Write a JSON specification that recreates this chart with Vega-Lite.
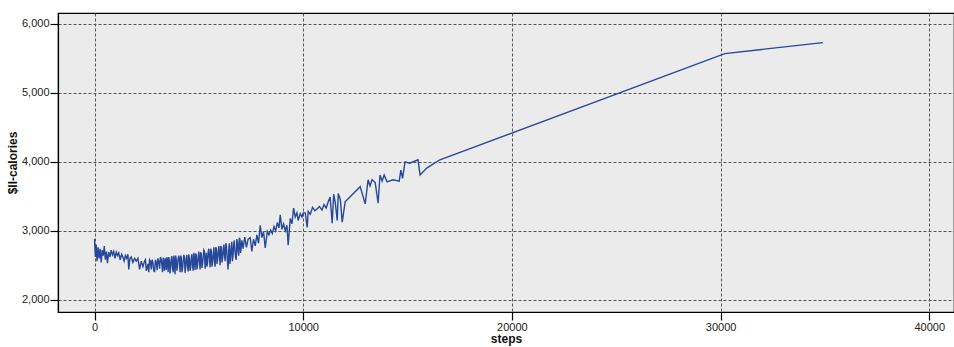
{
  "$schema": "https://vega.github.io/schema/vega-lite/v6.json",
  "width": 896,
  "height": 299,
  "autosize": {"type": "none"},
  "padding": {"left": 58, "top": 13, "right": 0, "bottom": 35},
  "background": "#ffffff",
  "config": {
    "view": {"fill": "#ebebeb", "stroke": "#000000", "strokeWidth": 1.2},
    "axis": {
      "labelFont": "Liberation Sans",
      "labelFontSize": 11,
      "labelColor": "#222222",
      "titleFont": "Liberation Sans",
      "titleFontSize": 11,
      "titleFontWeight": "bold",
      "titleColor": "#111111",
      "domainColor": "#000000",
      "domainWidth": 1.2,
      "tickColor": "#000000",
      "tickSize": 8,
      "tickWidth": 1.2,
      "grid": true,
      "gridColor": "#555555",
      "gridDash": [3, 2],
      "gridWidth": 1,
      "gridOpacity": 1
    }
  },
  "data": {
    "values": [
      {"steps": 0, "cal": 2880}, {"steps": 40, "cal": 2620}, {"steps": 80, "cal": 2800}, {"steps": 120, "cal": 2560},
      {"steps": 170, "cal": 2760}, {"steps": 220, "cal": 2600}, {"steps": 270, "cal": 2740}, {"steps": 320, "cal": 2540},
      {"steps": 370, "cal": 2720}, {"steps": 420, "cal": 2640}, {"steps": 470, "cal": 2780}, {"steps": 520, "cal": 2580},
      {"steps": 570, "cal": 2700}, {"steps": 620, "cal": 2530}, {"steps": 680, "cal": 2690}, {"steps": 740, "cal": 2620},
      {"steps": 800, "cal": 2720}, {"steps": 860, "cal": 2650}, {"steps": 920, "cal": 2700}, {"steps": 980, "cal": 2600},
      {"steps": 1040, "cal": 2690}, {"steps": 1100, "cal": 2640}, {"steps": 1160, "cal": 2680}, {"steps": 1230, "cal": 2580},
      {"steps": 1300, "cal": 2660}, {"steps": 1360, "cal": 2620}, {"steps": 1420, "cal": 2560}, {"steps": 1480, "cal": 2640},
      {"steps": 1540, "cal": 2600}, {"steps": 1600, "cal": 2660}, {"steps": 1640, "cal": 2440}, {"steps": 1700, "cal": 2600},
      {"steps": 1760, "cal": 2620}, {"steps": 1840, "cal": 2540}, {"steps": 1920, "cal": 2600}, {"steps": 2000, "cal": 2560},
      {"steps": 2080, "cal": 2600}, {"steps": 2160, "cal": 2440}, {"steps": 2240, "cal": 2560}, {"steps": 2320, "cal": 2480},
      {"steps": 2400, "cal": 2560}, {"steps": 2440, "cal": 2580}, {"steps": 2480, "cal": 2420}, {"steps": 2520, "cal": 2460},
      {"steps": 2560, "cal": 2520}, {"steps": 2600, "cal": 2400}, {"steps": 2640, "cal": 2580}, {"steps": 2680, "cal": 2560},
      {"steps": 2720, "cal": 2440}, {"steps": 2760, "cal": 2580}, {"steps": 2800, "cal": 2540}, {"steps": 2840, "cal": 2420},
      {"steps": 2880, "cal": 2410}, {"steps": 2920, "cal": 2580}, {"steps": 2960, "cal": 2540}, {"steps": 3000, "cal": 2430},
      {"steps": 3040, "cal": 2600}, {"steps": 3080, "cal": 2560}, {"steps": 3120, "cal": 2450}, {"steps": 3160, "cal": 2620},
      {"steps": 3200, "cal": 2580}, {"steps": 3230, "cal": 2500}, {"steps": 3260, "cal": 2400}, {"steps": 3290, "cal": 2610},
      {"steps": 3320, "cal": 2520}, {"steps": 3350, "cal": 2420}, {"steps": 3380, "cal": 2600}, {"steps": 3410, "cal": 2580},
      {"steps": 3440, "cal": 2430}, {"steps": 3470, "cal": 2620}, {"steps": 3500, "cal": 2560}, {"steps": 3530, "cal": 2400},
      {"steps": 3560, "cal": 2620}, {"steps": 3590, "cal": 2560}, {"steps": 3620, "cal": 2380}, {"steps": 3650, "cal": 2480},
      {"steps": 3680, "cal": 2600}, {"steps": 3710, "cal": 2630}, {"steps": 3740, "cal": 2460}, {"steps": 3770, "cal": 2400},
      {"steps": 3800, "cal": 2640}, {"steps": 3830, "cal": 2550}, {"steps": 3860, "cal": 2370}, {"steps": 3890, "cal": 2640},
      {"steps": 3920, "cal": 2580}, {"steps": 3950, "cal": 2420}, {"steps": 3980, "cal": 2500}, {"steps": 4010, "cal": 2600},
      {"steps": 4040, "cal": 2640}, {"steps": 4070, "cal": 2560}, {"steps": 4100, "cal": 2400}, {"steps": 4130, "cal": 2640},
      {"steps": 4160, "cal": 2610}, {"steps": 4190, "cal": 2400}, {"steps": 4220, "cal": 2460}, {"steps": 4250, "cal": 2560},
      {"steps": 4280, "cal": 2650}, {"steps": 4310, "cal": 2620}, {"steps": 4340, "cal": 2390}, {"steps": 4370, "cal": 2480},
      {"steps": 4400, "cal": 2600}, {"steps": 4430, "cal": 2650}, {"steps": 4460, "cal": 2470}, {"steps": 4490, "cal": 2410},
      {"steps": 4520, "cal": 2660}, {"steps": 4550, "cal": 2580}, {"steps": 4580, "cal": 2420}, {"steps": 4610, "cal": 2470},
      {"steps": 4640, "cal": 2620}, {"steps": 4670, "cal": 2660}, {"steps": 4700, "cal": 2490}, {"steps": 4730, "cal": 2420},
      {"steps": 4760, "cal": 2680}, {"steps": 4790, "cal": 2600}, {"steps": 4820, "cal": 2430}, {"steps": 4850, "cal": 2670},
      {"steps": 4880, "cal": 2640}, {"steps": 4910, "cal": 2440}, {"steps": 4940, "cal": 2510}, {"steps": 4970, "cal": 2620},
      {"steps": 5000, "cal": 2700}, {"steps": 5030, "cal": 2560}, {"steps": 5060, "cal": 2440}, {"steps": 5090, "cal": 2690},
      {"steps": 5120, "cal": 2660}, {"steps": 5150, "cal": 2460}, {"steps": 5180, "cal": 2530}, {"steps": 5210, "cal": 2620},
      {"steps": 5240, "cal": 2720}, {"steps": 5270, "cal": 2700}, {"steps": 5300, "cal": 2450}, {"steps": 5330, "cal": 2560},
      {"steps": 5360, "cal": 2680}, {"steps": 5390, "cal": 2480}, {"steps": 5420, "cal": 2550}, {"steps": 5450, "cal": 2700},
      {"steps": 5480, "cal": 2740}, {"steps": 5510, "cal": 2600}, {"steps": 5540, "cal": 2470}, {"steps": 5570, "cal": 2740},
      {"steps": 5600, "cal": 2700}, {"steps": 5630, "cal": 2480}, {"steps": 5660, "cal": 2570}, {"steps": 5690, "cal": 2660},
      {"steps": 5720, "cal": 2760}, {"steps": 5750, "cal": 2540}, {"steps": 5780, "cal": 2480}, {"steps": 5810, "cal": 2760},
      {"steps": 5840, "cal": 2740}, {"steps": 5870, "cal": 2520}, {"steps": 5900, "cal": 2590}, {"steps": 5930, "cal": 2700},
      {"steps": 5960, "cal": 2780}, {"steps": 5990, "cal": 2620}, {"steps": 6020, "cal": 2500}, {"steps": 6050, "cal": 2780},
      {"steps": 6080, "cal": 2760}, {"steps": 6110, "cal": 2540}, {"steps": 6140, "cal": 2610}, {"steps": 6170, "cal": 2720},
      {"steps": 6200, "cal": 2800}, {"steps": 6230, "cal": 2640}, {"steps": 6260, "cal": 2560}, {"steps": 6290, "cal": 2820},
      {"steps": 6320, "cal": 2780}, {"steps": 6360, "cal": 2600}, {"steps": 6400, "cal": 2440}, {"steps": 6430, "cal": 2700},
      {"steps": 6460, "cal": 2820}, {"steps": 6490, "cal": 2520}, {"steps": 6520, "cal": 2600}, {"steps": 6550, "cal": 2760},
      {"steps": 6580, "cal": 2840}, {"steps": 6610, "cal": 2560}, {"steps": 6640, "cal": 2660}, {"steps": 6670, "cal": 2800},
      {"steps": 6700, "cal": 2860}, {"steps": 6730, "cal": 2700}, {"steps": 6760, "cal": 2620}, {"steps": 6790, "cal": 2580},
      {"steps": 6820, "cal": 2880}, {"steps": 6850, "cal": 2840}, {"steps": 6880, "cal": 2700}, {"steps": 6910, "cal": 2640},
      {"steps": 6940, "cal": 2900}, {"steps": 6970, "cal": 2880}, {"steps": 7000, "cal": 2680}, {"steps": 7060, "cal": 2860},
      {"steps": 7120, "cal": 2740}, {"steps": 7200, "cal": 2910}, {"steps": 7280, "cal": 2760}, {"steps": 7360, "cal": 2880},
      {"steps": 7460, "cal": 2900}, {"steps": 7540, "cal": 2700}, {"steps": 7620, "cal": 2880}, {"steps": 7700, "cal": 2780},
      {"steps": 7780, "cal": 2940}, {"steps": 7860, "cal": 2820}, {"steps": 7940, "cal": 3080}, {"steps": 8020, "cal": 2900},
      {"steps": 8100, "cal": 2990}, {"steps": 8180, "cal": 2750}, {"steps": 8280, "cal": 2990}, {"steps": 8360, "cal": 2940},
      {"steps": 8440, "cal": 3010}, {"steps": 8520, "cal": 2960}, {"steps": 8600, "cal": 3060}, {"steps": 8680, "cal": 3000},
      {"steps": 8760, "cal": 3120}, {"steps": 8840, "cal": 3040}, {"steps": 8900, "cal": 3230}, {"steps": 8980, "cal": 3020},
      {"steps": 9060, "cal": 3100}, {"steps": 9140, "cal": 3000}, {"steps": 9220, "cal": 3080}, {"steps": 9280, "cal": 2790},
      {"steps": 9380, "cal": 3180}, {"steps": 9460, "cal": 3100}, {"steps": 9540, "cal": 3330}, {"steps": 9620, "cal": 3200},
      {"steps": 9700, "cal": 3260}, {"steps": 9760, "cal": 3150}, {"steps": 9860, "cal": 3250}, {"steps": 9940, "cal": 3200},
      {"steps": 10000, "cal": 3260}, {"steps": 10100, "cal": 3260}, {"steps": 10190, "cal": 3050}, {"steps": 10240, "cal": 3280},
      {"steps": 10340, "cal": 3240}, {"steps": 10450, "cal": 3340}, {"steps": 10560, "cal": 3290}, {"steps": 10670, "cal": 3320},
      {"steps": 10780, "cal": 3350}, {"steps": 10900, "cal": 3300}, {"steps": 11000, "cal": 3380}, {"steps": 11100, "cal": 3330},
      {"steps": 11200, "cal": 3420}, {"steps": 11290, "cal": 3490}, {"steps": 11390, "cal": 3110}, {"steps": 11460, "cal": 3530},
      {"steps": 11540, "cal": 3400}, {"steps": 11630, "cal": 3150}, {"steps": 11680, "cal": 3540}, {"steps": 11780, "cal": 3450},
      {"steps": 11870, "cal": 3125}, {"steps": 12010, "cal": 3420}, {"steps": 12730, "cal": 3640}, {"steps": 12970, "cal": 3390},
      {"steps": 13110, "cal": 3740}, {"steps": 13200, "cal": 3650}, {"steps": 13300, "cal": 3740}, {"steps": 13450, "cal": 3700},
      {"steps": 13590, "cal": 3400}, {"steps": 13680, "cal": 3810}, {"steps": 13780, "cal": 3720}, {"steps": 13880, "cal": 3810},
      {"steps": 14020, "cal": 3710}, {"steps": 14300, "cal": 3740}, {"steps": 14600, "cal": 3720}, {"steps": 14680, "cal": 3880},
      {"steps": 14760, "cal": 3760}, {"steps": 14880, "cal": 4000}, {"steps": 15100, "cal": 3980}, {"steps": 15500, "cal": 4030},
      {"steps": 15600, "cal": 3810}, {"steps": 15920, "cal": 3910}, {"steps": 16550, "cal": 4030}, {"steps": 30200, "cal": 5570},
      {"steps": 34900, "cal": 5730}
    ]
  },
  "mark": {"type": "line", "color": "#26489a", "strokeWidth": 1.4, "clip": true},
  "encoding": {
    "x": {
      "field": "steps",
      "type": "quantitative",
      "title": "steps",
      "scale": {"domain": [-1749, 41184], "nice": false, "zero": false},
      "axis": {"values": [0, 10000, 20000, 30000, 40000], "format": "d", "labelPadding": 1, "titlePadding": 1, "titleFontSize": 12}
    },
    "y": {
      "field": "cal",
      "type": "quantitative",
      "title": "$ll-calories",
      "scale": {"domain": [1822, 6159], "nice": false, "zero": false},
      "axis": {"values": [2000, 3000, 4000, 5000, 6000], "format": ",d", "labelPadding": 1, "titlePadding": 2, "titleFontSize": 12}
    }
  }
}
